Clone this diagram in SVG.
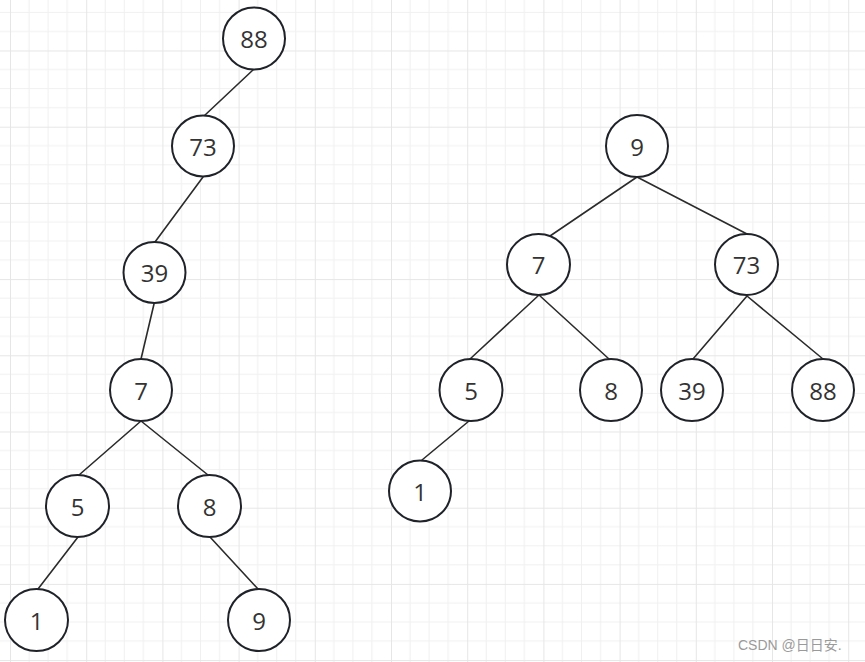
<svg xmlns="http://www.w3.org/2000/svg" width="865" height="662" viewBox="0 0 865 662">
<style>
.n ellipse{fill:#ffffff;stroke:#1f2329;stroke-width:2}
.n text{font-family:"Open Sans","Noto Sans","Liberation Sans",sans-serif;font-size:24px;fill:#333333;text-anchor:middle;dominant-baseline:central}
.e line{stroke:#2b2b2b;stroke-width:1.6;stroke-linecap:round}
.wm{font-family:"Liberation Sans","Noto Sans CJK SC",sans-serif;font-size:14px;fill:#9a9a9a}
</style>
<defs>
<pattern id="grid" patternUnits="userSpaceOnUse" x="10" y="50.5" width="76.2" height="76.2">
<g stroke="#f0f0f0" stroke-width="1">
<line x1="19.05" y1="0" x2="19.05" y2="76.2"/>
<line x1="38.1" y1="0" x2="38.1" y2="76.2"/>
<line x1="57.15" y1="0" x2="57.15" y2="76.2"/>
<line x1="0" y1="19.05" x2="76.2" y2="19.05"/>
<line x1="0" y1="38.1" x2="76.2" y2="38.1"/>
<line x1="0" y1="57.15" x2="76.2" y2="57.15"/>
</g>
<g stroke="#e6e6e6" stroke-width="2">
<line x1="0" y1="0" x2="0" y2="76.2"/>
<line x1="0" y1="0" x2="76.2" y2="0"/>
</g>
</pattern>
</defs>
<rect width="865" height="662" fill="#ffffff"/>
<rect width="865" height="662" fill="url(#grid)"/>
<g id="connectors" class="e">
<line x1="254" y1="69" x2="204" y2="116"/>
<line x1="203" y1="177" x2="155" y2="242"/>
<line x1="154" y1="304" x2="141" y2="359"/>
<line x1="141" y1="421" x2="79" y2="475"/>
<line x1="141" y1="421" x2="208" y2="475"/>
<line x1="78" y1="537" x2="38" y2="589"/>
<line x1="210" y1="537" x2="258" y2="589"/>
<line x1="637" y1="177" x2="550" y2="236"/>
<line x1="637" y1="177" x2="747" y2="234"/>
<line x1="539" y1="295" x2="470" y2="359"/>
<line x1="539" y1="295" x2="609" y2="359"/>
<line x1="747" y1="296" x2="693" y2="359"/>
<line x1="747" y1="296" x2="823" y2="359"/>
<line x1="469" y1="421" x2="422" y2="460"/>
</g>
<g id="L88" class="n"><ellipse cx="254" cy="38.5" rx="31" ry="31"/><text x="254" y="38.5">88</text></g>
<g id="L73" class="n"><ellipse cx="203" cy="146" rx="31" ry="30.5"/><text x="203" y="146">73</text></g>
<g id="L39" class="n"><ellipse cx="154.5" cy="272.5" rx="31" ry="30.5"/><text x="154.5" y="272.5">39</text></g>
<g id="L7" class="n"><ellipse cx="141" cy="390" rx="31" ry="31"/><text x="141" y="390">7</text></g>
<g id="L5" class="n"><ellipse cx="77.5" cy="506" rx="31.5" ry="31"/><text x="77.5" y="506">5</text></g>
<g id="L8" class="n"><ellipse cx="209.5" cy="506" rx="31.5" ry="31"/><text x="209.5" y="506">8</text></g>
<g id="L1" class="n"><ellipse cx="36.5" cy="620" rx="31.5" ry="31"/><text x="36.5" y="620">1</text></g>
<g id="L9" class="n"><ellipse cx="259" cy="620" rx="31" ry="31"/><text x="259" y="620">9</text></g>
<g id="R9" class="n"><ellipse cx="637" cy="146" rx="31" ry="31"/><text x="637" y="146">9</text></g>
<g id="R7" class="n"><ellipse cx="538.5" cy="264.5" rx="31.5" ry="30.5"/><text x="538.5" y="264.5">7</text></g>
<g id="R73" class="n"><ellipse cx="746.5" cy="264.5" rx="31.5" ry="30.5"/><text x="746.5" y="264.5">73</text></g>
<g id="R5" class="n"><ellipse cx="471" cy="390" rx="31.5" ry="31"/><text x="471" y="390">5</text></g>
<g id="R8" class="n"><ellipse cx="611" cy="390" rx="31" ry="31"/><text x="611" y="390">8</text></g>
<g id="R39" class="n"><ellipse cx="692" cy="390" rx="31" ry="31"/><text x="692" y="390">39</text></g>
<g id="R88" class="n"><ellipse cx="823" cy="390" rx="31" ry="31"/><text x="823" y="390">88</text></g>
<g id="R1" class="n"><ellipse cx="420" cy="491" rx="31" ry="30.5"/><text x="420" y="491">1</text></g>
<text class="wm" x="738" y="650">CSDN @日日安.</text>
</svg>
